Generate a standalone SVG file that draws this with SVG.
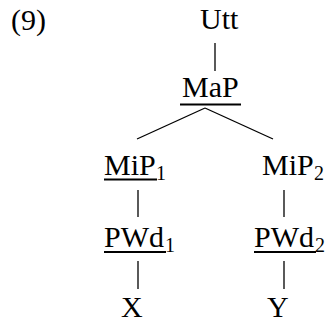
<svg xmlns="http://www.w3.org/2000/svg" width="327" height="322" viewBox="0 0 327 322">
<style>
text{font-family:"Liberation Serif","Times New Roman",serif;font-size:30px;fill:#000}
.sub{font-size:20px}
.ul{stroke:#000;stroke-width:2}
.edge{stroke:#000;stroke-width:1.3;fill:none}
</style>
<rect width="327" height="322" fill="#fff"/>
<text id="label" x="11" y="30">(9)</text>
<g id="connectors">
<line class="edge" x1="215" y1="43" x2="215" y2="71"/>
<line class="edge" x1="205" y1="108" x2="137" y2="139"/>
<line class="edge" x1="205" y1="108" x2="273" y2="139"/>
<line class="edge" x1="138" y1="190" x2="138" y2="217"/>
<line class="edge" x1="284" y1="190" x2="284" y2="217"/>
<line class="edge" x1="138" y1="261" x2="138" y2="289"/>
<line class="edge" x1="284" y1="261" x2="284" y2="289"/>
</g>
<g id="utt"><text x="200" y="29">Utt</text></g>
<g id="map"><text x="182" y="97">MaP</text><line class="ul" x1="180" y1="104.5" x2="241" y2="104.5"/></g>
<g id="mip1"><text x="104" y="175">MiP</text><text class="sub" x="156" y="180">1</text><line class="ul" x1="104" y1="179.5" x2="157" y2="179.5"/></g>
<g id="mip2"><text x="262" y="175">MiP</text><text class="sub" x="314" y="180">2</text></g>
<g id="pwd1"><text x="104" y="247">PWd</text><text class="sub" x="165" y="252">1</text><line class="ul" x1="104" y1="252" x2="166" y2="252"/></g>
<g id="pwd2"><text x="254" y="247">PWd</text><text class="sub" x="315" y="252">2</text><line class="ul" x1="254" y1="252" x2="316" y2="252"/></g>
<g id="x"><text x="121" y="317">X</text></g>
<g id="y"><text x="267" y="317">Y</text></g>
</svg>
